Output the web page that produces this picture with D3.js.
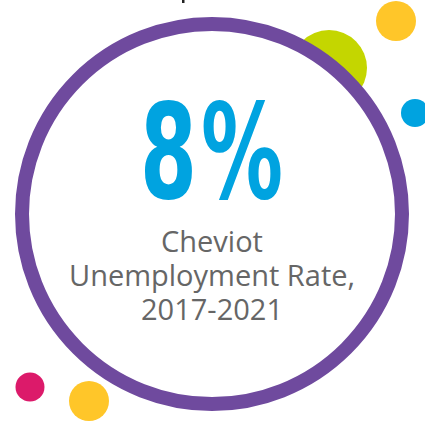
<!DOCTYPE html>
<html><head><meta charset="utf-8">
<script src="https://cdn.jsdelivr.net/npm/d3@7"></script>
<style>html,body{margin:0;padding:0;background:#fff;overflow:hidden}</style>
</head><body>
<svg id="c" width="425" height="424"></svg>
<script>
// data
const statValue = [8];
const statUnit = ["%"];
const labelLines = ["Cheviot", "Unemployment Rate,", "2017-2021"];
const dotColors = ["#c4d600", "#ffc629", "#00a3e0", "#dc1a6a", "#ffc629"];

// layout (decor)
const dotLayout = [
  {cx: 329, cy: 68, r: 38},
  {cx: 396, cy: 21, r: 20},
  {cx: 415, cy: 113, r: 14},
  {cx: 30, cy: 387, r: 14.5},
  {cx: 89, cy: 401, r: 20}
];

const svg = d3.select("#c");
const cx = 212, cy = 214, R = 190;

svg.append("rect").attr("x", 182).attr("y", 0).attr("width", 2.5).attr("height", 3).attr("fill", "#222");

svg.selectAll("circle.dot").data(dotColors).join("circle")
  .attr("class", "dot")
  .attr("cx", (d, i) => dotLayout[i].cx)
  .attr("cy", (d, i) => dotLayout[i].cy)
  .attr("r", (d, i) => dotLayout[i].r)
  .attr("fill", d => d);

svg.append("circle").attr("cx", cx).attr("cy", cy).attr("r", R)
  .attr("fill", "#fff").attr("stroke", "#6f4a9e").attr("stroke-width", 14);

const fmt = d3.format("d");
svg.append("text").attr("x", 140).attr("y", 198)
  .attr("font-family", "DejaVu Sans Condensed, DejaVu Sans").attr("font-weight", "bold")
  .attr("font-size", 132).attr("fill", "#00a3e0")
  .attr("textLength", 57).attr("lengthAdjust", "spacingAndGlyphs")
  .text(fmt(statValue[0]));
svg.append("text").attr("x", 201).attr("y", 198)
  .attr("font-family", "DejaVu Sans Condensed, DejaVu Sans").attr("font-weight", "bold")
  .attr("font-size", 132).attr("fill", "#00a3e0")
  .attr("textLength", 82).attr("lengthAdjust", "spacingAndGlyphs")
  .text(statUnit[0]);

svg.selectAll("text.lbl").data(labelLines).join("text")
  .attr("class", "lbl")
  .attr("x", cx).attr("y", (d, i) => 252 + i * 34)
  .attr("text-anchor", "middle")
  .attr("font-family", "Open Sans").attr("font-size", 29)
  .attr("fill", "#666")
  .text(d => d);
</script>
</body></html>
